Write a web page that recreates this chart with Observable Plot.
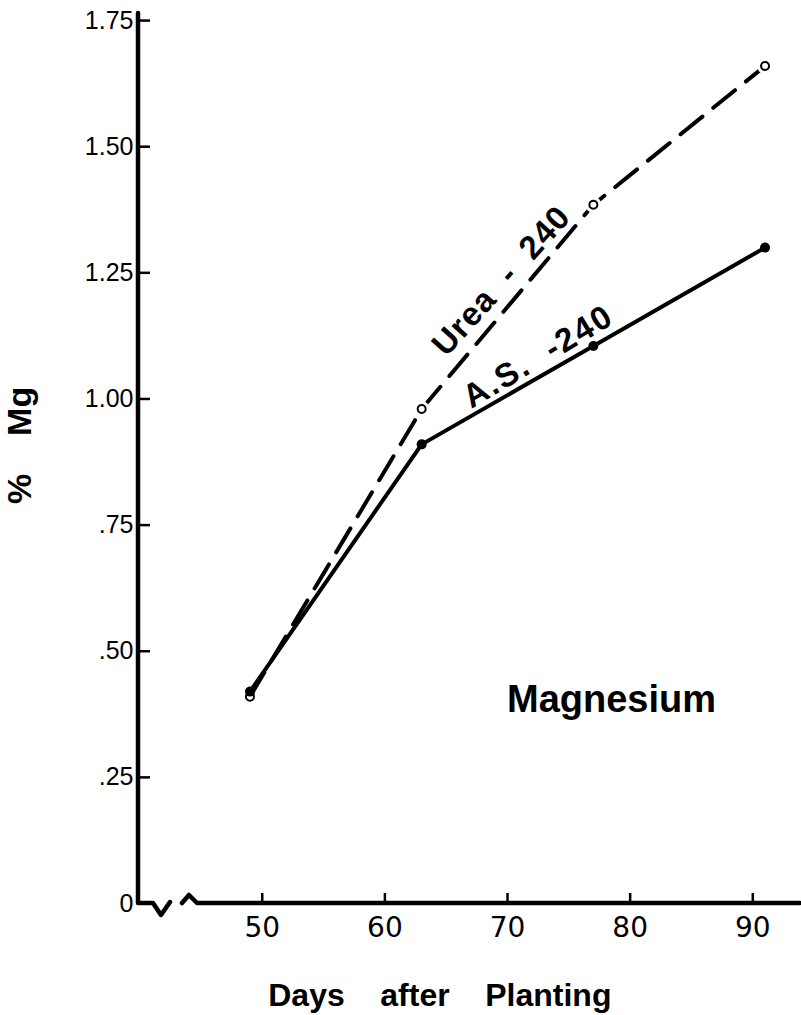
<!DOCTYPE html>
<html><head><meta charset="utf-8">
<script src="https://cdn.jsdelivr.net/npm/d3@7"></script>
<script src="https://cdn.jsdelivr.net/npm/@observablehq/plot@0.6"></script>
<style>
html,body{margin:0;padding:0;background:#fff;}
svg text{white-space:pre;}
</style></head><body><div id="chart"></div>
<script>
// ---- data ----
const days = [49, 63, 77, 91];
const ureaMg = [0.41, 0.98, 1.385, 1.66];
const asMg = [0.42, 0.91, 1.105, 1.30];
const xTicks = [50, 60, 70, 80, 90];
const yTicks = [0, 0.25, 0.5, 0.75, 1.0, 1.25, 1.5, 1.75];
const yTickLabels = ["0", ".25", ".50", ".75", "1.00", "1.25", "1.50", "1.75"];
const seriesLabels = ["Urea  -  240", "A.S.  -240"];
const panelTitle = "Magnesium";
const xTitle = "Days    after    Planting";
const yTitle = "%    Mg";

const urea = days.map((d, i) => ({day: d, mg: ureaMg[i]}));
const as = days.map((d, i) => ({day: d, mg: asMg[i]}));

const font = "'Liberation Sans', Arial, sans-serif";

const plot = Plot.plot({
  width: 801, height: 1015,
  marginLeft: 138, marginRight: 1, marginTop: 13, marginBottom: 112,
  x: {domain: [39.91, 93.89]},
  y: {domain: [0, 1.764]},
  style: {fontFamily: font, background: "white", color: "black"},
  marks: [
    Plot.axisY({ticks: yTicks, tickSize: 0, tickPadding: 5, fontSize: 25, label: null,
      tickFormat: d => yTickLabels[yTicks.indexOf(d)]}),
    Plot.axisY({ticks: yTicks.filter(d => d > 0), tickSize: 12, dx: 12, text: null, label: null, strokeWidth: 2.5}),
    Plot.axisX({ticks: xTicks, tickSize: 0, tickPadding: 14, fontSize: 28, fontFamily: "'DejaVu Sans', sans-serif", label: null}),
    Plot.axisX({ticks: xTicks, tickSize: 10, dy: -10, text: null, label: null, strokeWidth: 2.5}),
    Plot.line(urea, {x: "day", y: "mg", stroke: "black", strokeWidth: 4, strokeDasharray: "28,14"}),
    Plot.dot(urea.slice(1), {x: "day", y: "mg", r: 8, fill: "white"}),
    Plot.dot(urea, {x: "day", y: "mg", r: 4, fill: "white", stroke: "black", strokeWidth: 2}),
    Plot.line(as, {x: "day", y: "mg", stroke: "black", strokeWidth: 4}),
    Plot.dot(as, {x: "day", y: "mg", r: 5, fill: "black"}),
    Plot.text([seriesLabels[0]], {x: () => 69.5, y: () => 1.234, rotate: -48, fontSize: 33, fontWeight: "bold"}),
    Plot.text([seriesLabels[1]], {x: () => 72.5, y: () => 1.084, rotate: -31, fontSize: 33, fontWeight: "bold"}),
    Plot.text([panelTitle], {x: () => 78.48, y: () => 0.404, fontSize: 38, fontWeight: "bold"}),
    Plot.text([xTitle], {x: () => 64.48, frameAnchor: "bottom", lineAnchor: "middle", textAnchor: "middle", dy: 92, fontSize: 32, fontWeight: "bold"}),
    Plot.text([yTitle], {y: () => 0.908, frameAnchor: "left", textAnchor: "middle", lineAnchor: "middle", dx: -118, rotate: -90, fontSize: 34, fontWeight: "bold"})
  ]
});

// axis lines with a break on the x axis
const xr = plot.scale("x").range, yr = plot.scale("y").range;
const x0 = xr[0], xR = xr[1], y0 = yr[0], yTop = yr[1];
d3.select(plot).append("path")
  .attr("fill", "none").attr("stroke", "black").attr("stroke-width", 4.5)
  .attr("stroke-linejoin", "round").attr("stroke-linecap", "round")
  .attr("d", `M${x0},${yTop}V${y0}H${x0 + 15}L${x0 + 23},${y0 + 12}L${x0 + 32},${y0 - 1}` +
             `M${x0 + 44},${y0}L${x0 + 51},${y0 - 8}L${x0 + 59},${y0}H${xR}`);

d3.select(plot).selectAll("text").each(function() {
  const t = this.textContent;
  if (t === seriesLabels[0]) d3.select(this).style("letter-spacing", "1px");
  if (t === seriesLabels[1]) d3.select(this).style("letter-spacing", "2px");
});

document.getElementById("chart").appendChild(plot);
</script></body></html>
